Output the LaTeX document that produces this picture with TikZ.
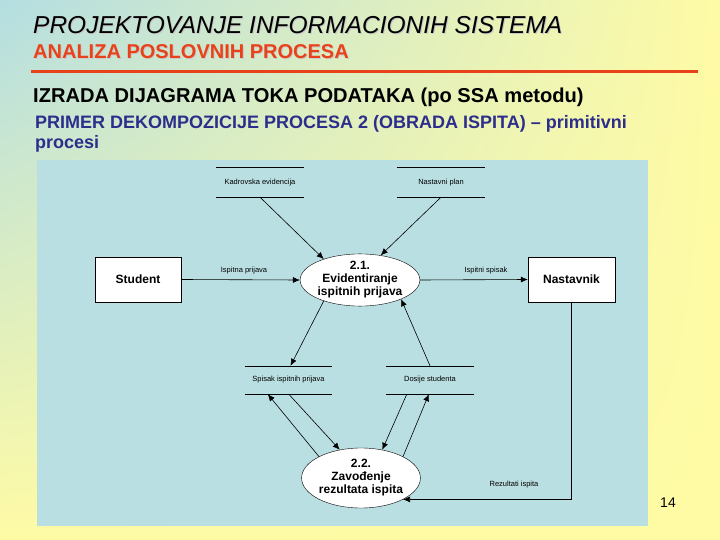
\documentclass[tikz,border=0pt]{standalone}
\usepackage{fontspec}
\setmainfont{Liberation Sans}
\usetikzlibrary{shapes.geometric,arrows.meta,calc,shadings}
\definecolor{panel}{RGB}{186,223,226}
\definecolor{bgcyan}{RGB}{180,222,226}
\definecolor{bgyellow}{RGB}{255,251,165}
\definecolor{redline}{RGB}{232,66,26}
\definecolor{darkblue}{RGB}{45,45,140}
\begin{document}
\begin{tikzpicture}[x=1pt,y=-1pt,
  entity/.style={draw,fill=white,minimum width=86pt,minimum height=45pt,inner sep=0pt,font=\bfseries\fontsize{12}{14}\selectfont},
  proc/.style={ellipse,draw,fill=white,inner sep=0pt,align=center,font=\bfseries\fontsize{12}{14}\selectfont},
  store/.style={minimum width=87pt,minimum height=29pt,inner sep=0pt,font=\fontsize{7.5}{9}\selectfont},
  flowlbl/.style={font=\fontsize{7.5}{9}\selectfont,inner sep=0pt},
  flow/.style={-{Latex[length=7pt,width=6pt]},line width=0.6pt},
  storeline/.style={line width=0.6pt},
  ttl/.style={anchor=base west,inner sep=0pt},
]
\useasboundingbox (0,0) rectangle (720,540);
\shade[upper left=bgcyan,upper right=bgyellow,lower left=bgyellow,lower right=bgyellow] (0,0) rectangle (720,540);

% titles
\node[ttl,text=black!22] at (34,35) {\itshape\fontsize{24.5}{28}\selectfont PROJEKTOVANJE INFORMACIONIH SISTEMA};
\node[ttl] (t1) at (33,34) {\itshape\fontsize{24.5}{28}\selectfont PROJEKTOVANJE INFORMACIONIH SISTEMA};
\node[ttl,text=black!20] at (34,60) {\bfseries\fontsize{20}{24}\selectfont ANALIZA POSLOVNIH PROCESA};
\node[ttl,text=redline] (t2) at (33,59) {\bfseries\fontsize{20}{24}\selectfont ANALIZA POSLOVNIH PROCESA};
\draw[redline,line width=3pt] (31,71.5) -- (698,71.5);
\node[ttl] (t3) at (33,103) {\bfseries\fontsize{20.1}{24}\selectfont IZRADA DIJAGRAMA TOKA PODATAKA (po SSA metodu)};
\node[ttl,text=darkblue] (t4) at (35,128.5) {\bfseries\fontsize{18}{21}\selectfont PRIMER DEKOMPOZICIJE PROCESA 2 (OBRADA ISPITA) – primitivni};
\node[ttl,text=darkblue] (t5) at (35,149) {\bfseries\fontsize{18}{21}\selectfont procesi};

% panel
\fill[panel] (37,160) rectangle (648,526);

% data stores
\node[store] (k) at (260,182.5) {Kadrovska evidencija};
\node[store,minimum width=88pt] (n) at (441,182.5) {Nastavni plan};
\node[store,minimum height=28pt] (sp) at (288.5,380) {Spisak ispitnih prijava};
\node[store,minimum width=88pt,minimum height=28pt] (d) at (430,380) {Dosije studenta};
\foreach \s in {k,n,sp,d}{
  \draw[storeline] (\s.north west) -- (\s.north east);
  \draw[storeline] (\s.south west) -- (\s.south east);
}

% entities
\node[entity] (s) at (138,279.5) {Student};
\node[entity,minimum width=87pt] (t) at (571.5,279.5) {Nastavnik};

% processes
\node[proc,minimum width=104pt,minimum height=51pt] (p21) at (360,280) {2.1.\\[-1pt]Evidentiranje\\[-1pt]ispitnih prijava};
\node[proc,minimum width=113pt,minimum height=60pt] (p22) at (361,478) {2.2.\\[-1pt]Zavođenje\\[-1pt]rezultata ispita};

% flows
\draw[flow] (k.south) -- (p21.150);
\draw[flow] (n.south) -- (p21.50);
\draw[flow] (s.east) -- (p21.west);
\draw[flow] (p21.east) -- (t.west);
\draw[flow] (p21.210) -- ($(sp.north)+(2,0)$);
\draw[flow] (d.north) -- (p21.335);
\draw[flow] (p22.153) -- ($(sp.south west)+(23,0)$);
\draw[flow] ($(sp.south west)+(44,0)$) -- (p22.127);
\draw[flow] ($(d.south west)+(21,0)$) -- (p22.53);
\draw[flow] (p22.27) -- ($(d.south west)+(43,0)$);
\draw[flow] (t.south) |- (p22.333);

% flow labels
\node[flowlbl] (l1) at (244,271) {Ispitna prijava};
\node[flowlbl] (l2) at (486,271) {Ispitni spisak};
\node[flowlbl] (l3) at (514,485) {Rezultati ispita};

% page number
\node[inner sep=0pt,font=\fontsize{14}{16}\selectfont] (pg) at (668,503) {14};
\end{tikzpicture}
\end{document}
